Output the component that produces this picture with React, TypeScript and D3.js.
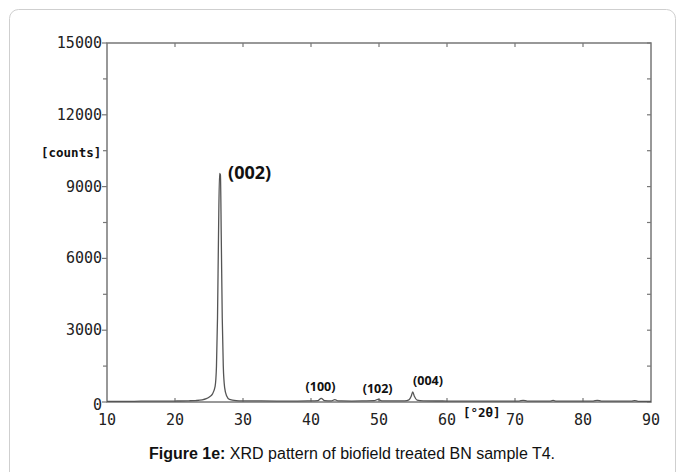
import React from "react";
import * as d3 from "d3";

// ---- data ----
const twoTheta = [
  10, 12, 14, 16, 18, 20, 22, 23, 24, 24.6, 25.1, 25.5, 25.9, 26.1, 26.25, 26.4, 26.55, 26.68,
  26.8, 26.95, 27.1, 27.3, 27.6, 28.0, 29, 30, 32, 35, 38, 40, 41, 41.5, 42.0, 43.0, 43.5,
  44.0, 46, 48, 49.3, 49.85, 50.4, 52, 53.8, 54.4, 54.75, 54.96, 55.2, 55.6, 56.5, 60, 65,
  70.6, 71.2, 71.8, 75.1, 75.6, 76.1, 81.5, 82.1, 82.7, 87.1, 87.6, 88.1, 90,
];
const counts = [
  25, 30, 30, 35, 35, 40, 50, 60, 90, 140, 220, 330, 650, 1500, 3500, 7000, 9550, 9500,
  7000, 3500, 1500, 600, 250, 110, 60, 50, 45, 40, 40, 45, 60, 150, 60, 50, 100,
  45, 40, 45, 55, 110, 50, 45, 50, 90, 250, 420, 240, 80, 50, 40, 35,
  35, 70, 35, 35, 65, 35, 35, 70, 35, 35, 60, 30, 30,
];
const yTicks = [0, 3000, 6000, 9000, 12000, 15000];
const yMinorTicks = [1500, 4500, 7500, 10500, 13500];
const xTicks = [10, 20, 30, 40, 50, 60, 70, 80, 90];
const peakLabels = ["(002)", "(100)", "(102)", "(004)"];
const peakLabelTheta = [27.8, 39.2, 47.6, 55.0];
const peakLabelCounts = [9300, 480, 360, 700];
const peakLabelBig = [true, false, false, false];

const W = 683;
const H = 472;
const left = 107, right = 651, top = 43, bottom = 402;

export default function App() {
  const x = d3.scaleLinear().domain([10, 90]).range([left, right]);
  const y = d3.scaleLinear().domain([0, 15000]).range([bottom, top]);
  const pts = twoTheta.map((t, i) => [t, counts[i]] as [number, number]);
  const line = d3
    .line<[number, number]>()
    .x((d) => x(d[0]))
    .y((d) => y(d[1]))
    .curve(d3.curveMonotoneX);
  const axisColor = "#777";
  const mono = "'DejaVu Sans Mono', monospace";
  return (
    <svg
      width={W}
      height={H}
      style={{ position: "absolute", left: 0, top: 0, background: "#fff" }}
    >
      {/* outer frame */}
      <rect x={9.5} y={9.5} width={666} height={480} rx={9} fill="none" stroke="#cfcfcf" strokeWidth={1} />

      {/* plot frame */}
      <rect x={left} y={top} width={right - left} height={bottom - top} fill="none" stroke={axisColor} strokeWidth={1.5} />

      {/* y ticks left (outside) */}
      {yTicks.map((t) => (
        <line key={"yl" + t} x1={left - 5} x2={left} y1={y(t)} y2={y(t)} stroke={axisColor} strokeWidth={1.2} />
      ))}
      {yMinorTicks.map((t) => (
        <line key={"ym" + t} x1={left - 4} x2={left} y1={y(t)} y2={y(t)} stroke={axisColor} strokeWidth={1.2} />
      ))}
      {/* right ticks (inside) */}
      {[...yTicks, ...yMinorTicks].map((t) => (
        <line key={"yr" + t} x1={right - 4} x2={right} y1={y(t)} y2={y(t)} stroke={axisColor} strokeWidth={1.2} />
      ))}
      {/* top & bottom ticks inside */}
      {xTicks.slice(1, -1).map((t) => (
        <g key={"xt" + t}>
          <line x1={x(t)} x2={x(t)} y1={top} y2={top + 4} stroke={axisColor} strokeWidth={1.2} />
          <line x1={x(t)} x2={x(t)} y1={bottom} y2={bottom - 4} stroke={axisColor} strokeWidth={1.2} />
        </g>
      ))}

      {/* y tick labels */}
      {yTicks.map((t) => (
        <text
          key={"ytl" + t}
          x={left - 5}
          y={y(t) + (t === 0 ? 3 : 0)}
          textAnchor="end"
          dominantBaseline="central"
          fontFamily={mono}
          fontSize={15}
          fill="#222"
        >
          {t}
        </text>
      ))}
      {/* x tick labels */}
      {xTicks.map((t) => (
        <text
          key={"xtl" + t}
          x={x(t)}
          y={420}
          textAnchor="middle"
          dominantBaseline="central"
          fontFamily={mono}
          fontSize={15}
          fill="#222"
        >
          {t}
        </text>
      ))}

      <text x={41} y={152} dominantBaseline="central" fontFamily={mono} fontWeight="bold" fontSize={12.5} fill="#111">
        [counts]
      </text>
      <text x={463} y={412} dominantBaseline="central" fontFamily={mono} fontWeight="bold" fontSize={12.5} fill="#111">
        [°2θ]
      </text>

      {/* pattern */}
      <path d={line(pts) || ""} fill="none" stroke="#555" strokeWidth={1.3} />

      {/* peak labels */}
      {peakLabels.map((lab, i) => (
        <text
          key={lab}
          x={x(peakLabelTheta[i])}
          y={y(peakLabelCounts[i])}
          fontFamily="'Open Sans', sans-serif"
          fontWeight="bold"
          fontSize={peakLabelBig[i] ? 18 : 12.5}
          fill="#111"
        >
          {lab}
        </text>
      ))}

      {/* caption */}
      <text x={352} y={459} textAnchor="middle" fontFamily="'Liberation Sans', Arial, sans-serif" fontSize={16} fill="#111">
        <tspan fontWeight="bold">Figure 1e:</tspan>
        <tspan> XRD pattern of biofield treated BN sample T4.</tspan>
      </text>
    </svg>
  );
}
